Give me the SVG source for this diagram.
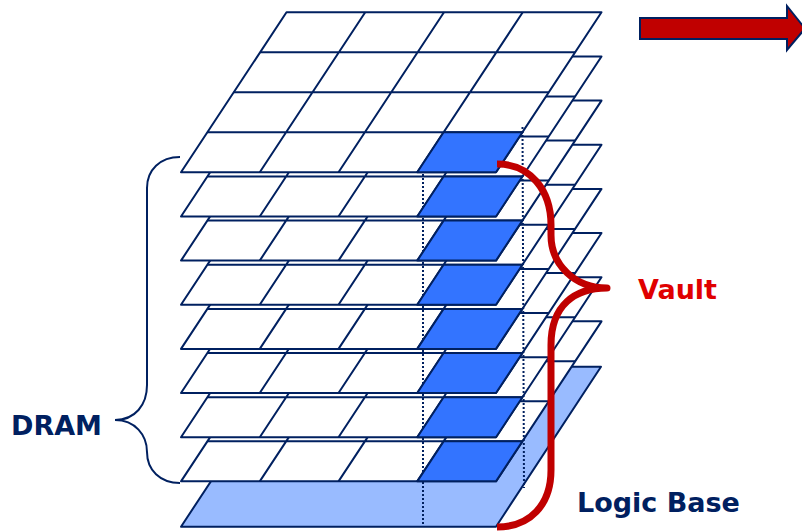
<svg xmlns="http://www.w3.org/2000/svg" width="802" height="531" viewBox="0 0 802 531">
<style>
.g{fill:#fff;stroke:#002060;stroke-width:2;stroke-linejoin:round}
.b{fill:#3374ff;stroke:#002060;stroke-width:2;stroke-linejoin:round}
.d{fill:none;stroke:#002060;stroke-width:2;stroke-dasharray:2 2}
.t{font-family:Tahoma,"DejaVu Sans",sans-serif;font-weight:700;font-size:27px}
</style>
<defs>
<g id="grid">
<path class="g" d="M286.5 12.3H601.5L496 172.3H181Z"/>
<path class="g" fill="none" style="fill:none" d="M260.1 52.3H575.1M233.75 92.3H548.75M207.4 132.3H522.4M365.25 12.3L259.75 172.3M444 12.3L338.5 172.3M522.75 12.3L417.25 172.3"/>
</g>
<path id="cell" class="b" d="M443.6 132.3H522.4L496 172.3H417.25Z"/>
</defs>
<g id="logic-base"><path d="M286.5 366.7H601L496 526.7H181Z" fill="#99bbff" stroke="#002060" stroke-width="2" stroke-linejoin="round"/></g>
<g id="dram-layers">
<use href="#grid" y="309.05"/>
<use href="#grid" y="264.9"/>
<use href="#grid" y="220.75"/>
<use href="#grid" y="176.6"/>
<use href="#grid" y="132.45"/>
<use href="#grid" y="88.3"/>
<use href="#grid" y="44.15"/>
<use href="#grid"/>
</g>
<g id="connectors">
<path class="d" d="M423 166V527"/>
<path class="d" d="M522.5 127L524 488"/>
</g>
<g id="vault-cells">
<use href="#cell" y="309.05"/>
<use href="#cell" y="264.9"/>
<use href="#cell" y="220.75"/>
<use href="#cell" y="176.6"/>
<use href="#cell" y="132.45"/>
<use href="#cell" y="88.3"/>
<use href="#cell" y="44.15"/>
<use href="#cell"/>
</g>
<g id="vault-brace"><path d="M497 164C530 164 551 190 551 225V235C551 265 575 288 607 288C575 288 551 305 551 345V470C551 505 530 527 497 527" fill="none" stroke="#c00000" stroke-width="7" stroke-linejoin="round"/></g>
<g id="dram-brace"><path d="M180 157C160 157 147 170 147 188V385C147 405 135 420 115 420C135 420 147 435 147 452V452C147 470 160 483 180 483" fill="none" stroke="#002060" stroke-width="2"/></g>
<g id="arrow"><path d="M640 18H787V6L805 28.5L787 50V39H640Z" fill="#c00000" stroke="#002060" stroke-width="2"/></g>
<g id="labels">
<text class="t" x="11" y="435" fill="#002060">DRAM</text>
<text class="t" x="638" y="299" fill="#e00000">Vault</text>
<text class="t" x="577" y="512" fill="#002060">Logic Base</text>
</g>
</svg>
